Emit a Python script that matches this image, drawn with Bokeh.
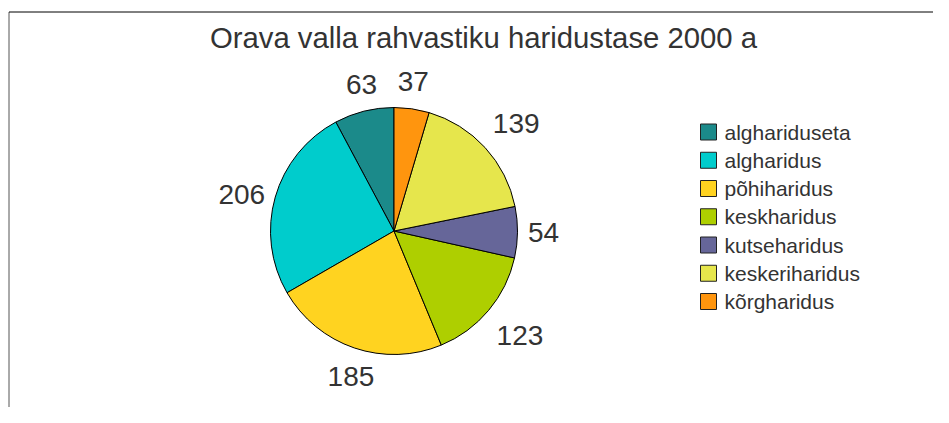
import numpy as np
from bokeh.plotting import figure
from bokeh.models import Range1d, ColumnDataSource
from bokeh.core.properties import value
from bokeh.embed import file_html
from bokeh.resources import INLINE

title = "Orava valla rahvastiku haridustase 2000 a"
categories = ["alghariduseta", "algharidus", "põhiharidus", "keskharidus",
              "kutseharidus", "keskeriharidus", "kõrgharidus"]
values = [63, 206, 185, 123, 54, 139, 37]
colors = ["#1b8a8a", "#00cccc", "#ffd320", "#aecf00", "#666699", "#e6e64c", "#ff950e"]

W, H = 933, 407
FONT = "Liberation Sans"
TXT = "#333333"

p = figure(width=W, height=H, x_range=Range1d(0, W), y_range=Range1d(0, H),
           output_backend="svg", toolbar_location=None, min_border=0)
p.axis.visible = False
p.grid.visible = False
p.outline_line_color = None
p.background_fill_color = "white"
p.border_fill_color = "white"

def Y(img_y):
    return H - img_y

# frame border
p.segment(x0=[8.5], y0=[Y(11.5)], x1=[8.5], y1=[Y(430)], line_color="#555555", line_width=1)
p.segment(x0=[8.5], y0=[Y(11.5)], x1=[960], y1=[Y(11.5)], line_color="#000000", line_width=1)

# pie
cx, cy, r = 393.5, Y(230.5), 123.5
vals = np.array(values, dtype=float)
frac = vals / vals.sum()
ends = np.cumsum(frac) * 2 * np.pi
starts = ends - frac * 2 * np.pi
src = ColumnDataSource(dict(start=np.pi / 2 + starts, end=np.pi / 2 + ends, color=colors,
                            cat=categories, val=values))
p.wedge(x=cx, y=cy, radius=r, start_angle="start", end_angle="end", direction="anticlock",
        fill_color="color", line_color="black", line_width=1, source=src)

# value labels
mid = np.pi / 2 + (starts + ends) / 2
ux, uy = np.cos(mid), np.sin(mid)
ra = 134
for i, v in enumerate(values):
    ax_ = cx + ra * ux[i]
    ay_ = cy + ra * uy[i]
    align = "left" if ux[i] > 0.4 else ("right" if ux[i] < -0.4 else "center")
    if uy[i] > 0.4:
        base = "bottom"
        ay_ += 7
    elif uy[i] < -0.4:
        base = "top"
        ay_ -= 9
    else:
        base = "middle"
    p.text(x=[ax_], y=[ay_], text=[str(v)], text_font=value(FONT), text_font_size="28px",
           text_color=TXT, text_align=align, text_baseline=base)

# title
p.text(x=[483], y=[Y(36.5)], text=[title], text_font=value(FONT), text_font_size="29.3px",
       text_color=TXT, text_align="center", text_baseline="middle")

# legend
lx, ly0, dy = 708, 131.5, 28.25
for i, (c, cat) in enumerate(zip(colors, categories)):
    yy = Y(ly0 + dy * i)
    p.rect(x=[lx], y=[yy], width=16, height=16, fill_color=c, line_color="#222222", line_width=1)
    p.text(x=[lx + 16], y=[yy], text=[cat], text_font=value(FONT), text_font_size="21px",
           text_color=TXT, text_align="left", text_baseline="middle")

open("out.html", "w").write(file_html(p, INLINE))
